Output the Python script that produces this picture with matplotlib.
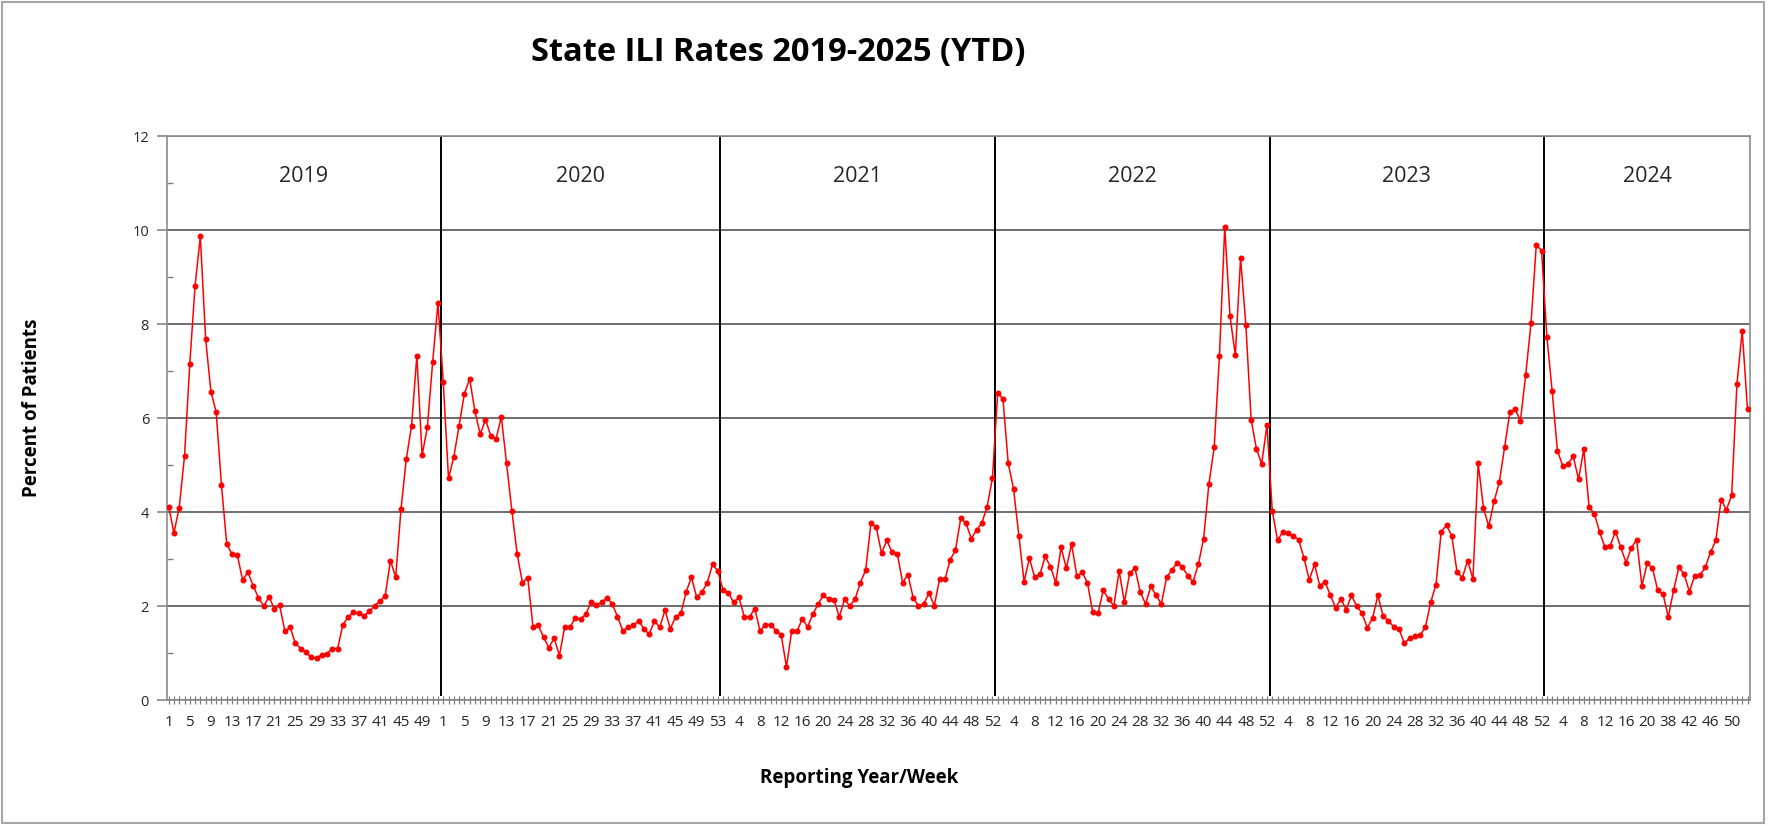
import numpy as np
import matplotlib
matplotlib.use("Agg")
from matplotlib import pyplot as plt
from matplotlib.patches import Rectangle

plt.rcParams["font.family"] = ["Open Sans", "DejaVu Sans"]

# weekly ILI rate (percent of patients)
weeks_2019 = list(range(1, 53))
ili_2019 = [4.12, 3.56, 4.10, 5.19, 7.16, 8.82, 9.87, 7.69, 6.57, 6.13,
            4.58, 3.32, 3.11, 3.09, 2.56, 2.72, 2.44, 2.18, 2.00, 2.20,
            1.95, 2.03, 1.47, 1.55, 1.21, 1.10, 1.02, 0.91, 0.89, 0.97,
            0.99, 1.10, 1.10, 1.61, 1.77, 1.87, 1.85, 1.80, 1.89, 2.01,
            2.11, 2.22, 2.97, 2.62, 4.07, 5.13, 5.84, 7.33, 5.21, 5.82,
            7.20, 8.45]

weeks_2020 = list(range(1, 54))
ili_2020 = [6.78, 4.72, 5.18, 5.84, 6.52, 6.84, 6.15, 5.66, 5.97, 5.63,
            5.56, 6.03, 5.04, 4.03, 3.11, 2.50, 2.61, 1.56, 1.59, 1.34,
            1.12, 1.32, 0.95, 1.56, 1.55, 1.75, 1.72, 1.83, 2.09, 2.03,
            2.08, 2.18, 2.05, 1.78, 1.48, 1.55, 1.59, 1.69, 1.52, 1.40,
            1.69, 1.55, 1.92, 1.52, 1.77, 1.85, 2.30, 2.62, 2.19, 2.30,
            2.50, 2.89, 2.75]

weeks_2021 = list(range(1, 53))
ili_2021 = [2.34, 2.28, 2.08, 2.19, 1.78, 1.77, 1.95, 1.47, 1.61, 1.61,
            1.48, 1.39, 0.71, 1.48, 1.47, 1.73, 1.56, 1.83, 2.05, 2.23,
            2.15, 2.14, 1.77, 2.15, 2.00, 2.16, 2.50, 2.77, 3.77, 3.68,
            3.13, 3.40, 3.15, 3.11, 2.50, 2.67, 2.18, 2.01, 2.05, 2.28,
            2.01, 2.58, 2.57, 2.99, 3.19, 3.87, 3.77, 3.44, 3.62, 3.77,
            4.12, 4.72]

weeks_2022 = list(range(1, 53))
ili_2022 = [6.54, 6.41, 5.04, 4.50, 3.50, 2.52, 3.02, 2.62, 2.68, 3.06,
            2.84, 2.50, 3.25, 2.81, 3.32, 2.64, 2.72, 2.50, 1.87, 1.85,
            2.34, 2.15, 2.01, 2.75, 2.08, 2.71, 2.81, 2.30, 2.05, 2.42,
            2.23, 2.05, 2.62, 2.77, 2.93, 2.83, 2.65, 2.52, 2.89, 3.44,
            4.60, 5.38, 7.33, 10.07, 8.17, 7.35, 9.41, 7.98, 5.97, 5.35,
            5.03, 5.86]

weeks_2023 = list(range(1, 53))
ili_2023 = [4.03, 3.41, 3.58, 3.55, 3.50, 3.41, 3.03, 2.56, 2.89, 2.44,
            2.52, 2.23, 1.97, 2.15, 1.93, 2.23, 2.00, 1.85, 1.54, 1.75,
            2.23, 1.79, 1.69, 1.56, 1.52, 1.21, 1.32, 1.36, 1.38, 1.56,
            2.08, 2.46, 3.59, 3.72, 3.50, 2.72, 2.61, 2.97, 2.58, 5.04,
            4.09, 3.70, 4.23, 4.64, 5.38, 6.13, 6.19, 5.95, 6.93, 8.02,
            9.69, 9.57]

# no reports for weeks 21-34 of 2024
weeks_2024 = list(range(1, 21)) + list(range(35, 53))
ili_2024 = [7.74, 6.59, 5.31, 4.99, 5.03, 5.19, 4.70, 5.34, 4.11, 3.97,
            3.58, 3.25, 3.29, 3.59, 3.25, 2.93, 3.24, 3.42, 2.44, 2.91,
            2.81, 2.34, 2.26, 1.77, 2.34, 2.83, 2.68, 2.31, 2.65, 2.66,
            2.83, 3.15, 3.40, 4.27, 4.05, 4.36, 6.74, 7.86]

# YTD point, shown without its own year section
weeks_2025 = [1]
ili_2025 = [6.19]

year_labels = ["2019", "2020", "2021", "2022", "2023", "2024"]
year_weeks = [weeks_2019, weeks_2020, weeks_2021, weeks_2022, weeks_2023, weeks_2024, weeks_2025]
year_values = [ili_2019, ili_2020, ili_2021, ili_2022, ili_2023, ili_2024, ili_2025]

weeks = np.concatenate(year_weeks)
values = np.concatenate(year_values)
x = np.arange(len(values))

fig = plt.figure(figsize=(17.68, 8.26), dpi=100)
ax = fig.add_axes([0.0945, 0.1523, 0.8954, 0.6826])

ax.plot(x, values, color="#ff0000", lw=1.1, marker="o", ms=3.3, zorder=3)

ax.set_xlim(-0.3, len(values) - 0.5)
ax.set_ylim(0, 12)

# y axis: gridlines on even values, small inner ticks on odd ones
ax.set_yticks(np.arange(0, 13, 2))
ax.set_yticks(np.arange(1, 12, 2), minor=True)
ax.yaxis.grid(True, color="#555555", lw=1.2, zorder=1)
ax.tick_params(axis="y", which="major", direction="out", length=7, width=1.1,
               color="#7f7f7f", labelsize=10.5, pad=6, labelcolor="#262626")
ax.tick_params(axis="y", which="minor", direction="in", length=4, width=1.0, color="#7f7f7f")

# x axis: a tick on every week, label on every 4th
ax.set_xticks(x[::4])
ax.set_xticklabels([str(w) for w in weeks[::4]])
ax.set_xticks(x, minor=True)
ax.tick_params(axis="x", which="both", direction="inout", length=6, width=0.9,
               color="#7f7f7f", labelsize=11, pad=8, labelcolor="#262626")

for side in ["left", "right", "top", "bottom"]:
    ax.spines[side].set_color("#8c8c8c")
    ax.spines[side].set_linewidth(1.2)

# year dividers and section labels
counts = [len(w) for w in year_weeks]
starts = np.cumsum([0] + counts[:-1])
bounds = starts[1:len(year_labels)] - 0.5
ax.vlines(bounds, 0.1, 12, color="black", lw=1.4, zorder=2)

left_edges = [ax.get_xlim()[0]] + list(bounds)
right_edges = list(bounds) + [ax.get_xlim()[1]]
for label, lo, hi in zip(year_labels, left_edges, right_edges):
    ax.text((lo + hi) / 2, 11.15, label, ha="center", va="center", fontsize=15.5, color="#262626")

fig.text(0.44, 0.937, "State ILI Rates 2019-2025 (YTD)", ha="center", va="center",
         fontsize=23.5, fontweight="bold")
fig.text(0.018, 0.5065, "Percent of Patients", rotation=90, ha="center", va="center",
         fontsize=13.5, fontweight="bold")
fig.text(0.486, 0.058, "Reporting Year/Week", ha="center", va="center",
         fontsize=13.5, fontweight="bold")

fig.patches.append(Rectangle((0.001, 0.004), 0.997, 0.994, transform=fig.transFigure,
                             fill=False, ec="#a6a6a6", lw=1.5))

fig.savefig("out.png", dpi=100)
